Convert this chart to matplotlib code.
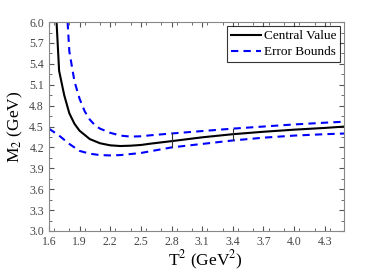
import numpy as np
import matplotlib
matplotlib.use("Agg")
import matplotlib.pyplot as plt
from matplotlib.ticker import MultipleLocator

plt.rcParams["font.family"] = ["Liberation Serif", "DejaVu Serif"]
plt.rcParams["mathtext.fontset"] = "stix"

# central value curve
x_c = [1.675, 1.70, 1.75, 1.80, 1.85, 1.90, 2.00, 2.10, 2.20, 2.30, 2.40, 2.50,
       2.60, 2.80, 3.10, 3.40, 3.70, 4.00, 4.30, 4.50]
m_c = [6.00, 5.30, 4.95, 4.69, 4.54, 4.44, 4.32, 4.26, 4.23, 4.22, 4.225, 4.235,
       4.255, 4.29, 4.345, 4.39, 4.425, 4.455, 4.48, 4.50]

# upper error bound
x_up = [1.783, 1.80, 1.85, 1.90, 1.95, 2.00, 2.05, 2.10, 2.20, 2.30, 2.40, 2.50,
        2.60, 2.80, 3.10, 3.40, 3.70, 4.00, 4.30, 4.50]
m_up = [6.00, 5.58, 5.15, 4.90, 4.72, 4.60, 4.52, 4.47, 4.41, 4.37, 4.355, 4.36,
        4.375, 4.40, 4.435, 4.47, 4.50, 4.53, 4.555, 4.57]

# lower error bound
x_lo = [1.60, 1.70, 1.80, 1.90, 2.00, 2.10, 2.20, 2.30, 2.50, 2.80, 3.10, 3.40,
        3.70, 4.00, 4.30, 4.50]
m_lo = [4.47, 4.37, 4.25, 4.15, 4.11, 4.09, 4.085, 4.09, 4.12, 4.20, 4.25, 4.30,
        4.34, 4.37, 4.39, 4.40]

# Borel window edges
window = [2.8, 3.4]

fig = plt.figure(figsize=(3.82, 2.73), dpi=100)
ax = fig.add_axes([0.128, 0.154, 0.773, 0.765])

ax.plot(x_c, m_c, color="black", lw=1.5, label="Central Value")
ax.plot(x_up, m_up, color="blue", lw=1.5, ls=(0, (3.5, 2.5)), label="Error Bounds")
ax.plot(x_lo, m_lo, color="blue", lw=1.5, ls=(0, (3.5, 2.5)))
for w in window:
    lo = np.interp(w, x_lo, m_lo)
    hi = np.interp(w, x_up, m_up)
    ax.plot([w, w], [lo, hi], color="#333333", lw=0.8)

ax.set_xlim(1.6, 4.49)
ax.set_ylim(3.0, 6.0)
ax.xaxis.set_minor_locator(MultipleLocator(0.15))
ax.yaxis.set_minor_locator(MultipleLocator(0.15))
xt = np.arange(1.6, 4.45, 0.3)
yt = np.arange(3.0, 6.05, 0.3)
ax.set_xticks(xt)
ax.set_xticklabels([f"{v:.1f}" for v in xt])
ax.set_yticks(yt)
ax.set_yticklabels([f"{v:.1f}" for v in yt])

ax.tick_params(which="both", direction="in", top=True, right=True,
               colors="#555555", labelsize=8.5, labelcolor="#444444")
ax.tick_params(which="major", length=3.5, width=0.8)
ax.tick_params(which="minor", length=2, width=0.6)
for spine in ax.spines.values():
    spine.set_color("#888888")

ax.set_xlabel(r"T$^2$ (GeV$^2$)", fontsize=12.5)
ax.set_ylabel(r"M$_2$ (GeV)", fontsize=12.5, labelpad=3)
ax.xaxis.set_label_coords(0.53, -0.085, transform=ax.transAxes)
ax.xaxis.label.set_va("top")

leg = ax.legend(loc="upper right", fontsize=9.5, frameon=True, fancybox=False,
                handlelength=2.3, handletextpad=0.2, borderpad=0.3,
                borderaxespad=0.3, labelspacing=0.3)
leg.get_frame().set_edgecolor("black")
leg.get_frame().set_linewidth(0.8)

fig.savefig("out.png", dpi=100)
